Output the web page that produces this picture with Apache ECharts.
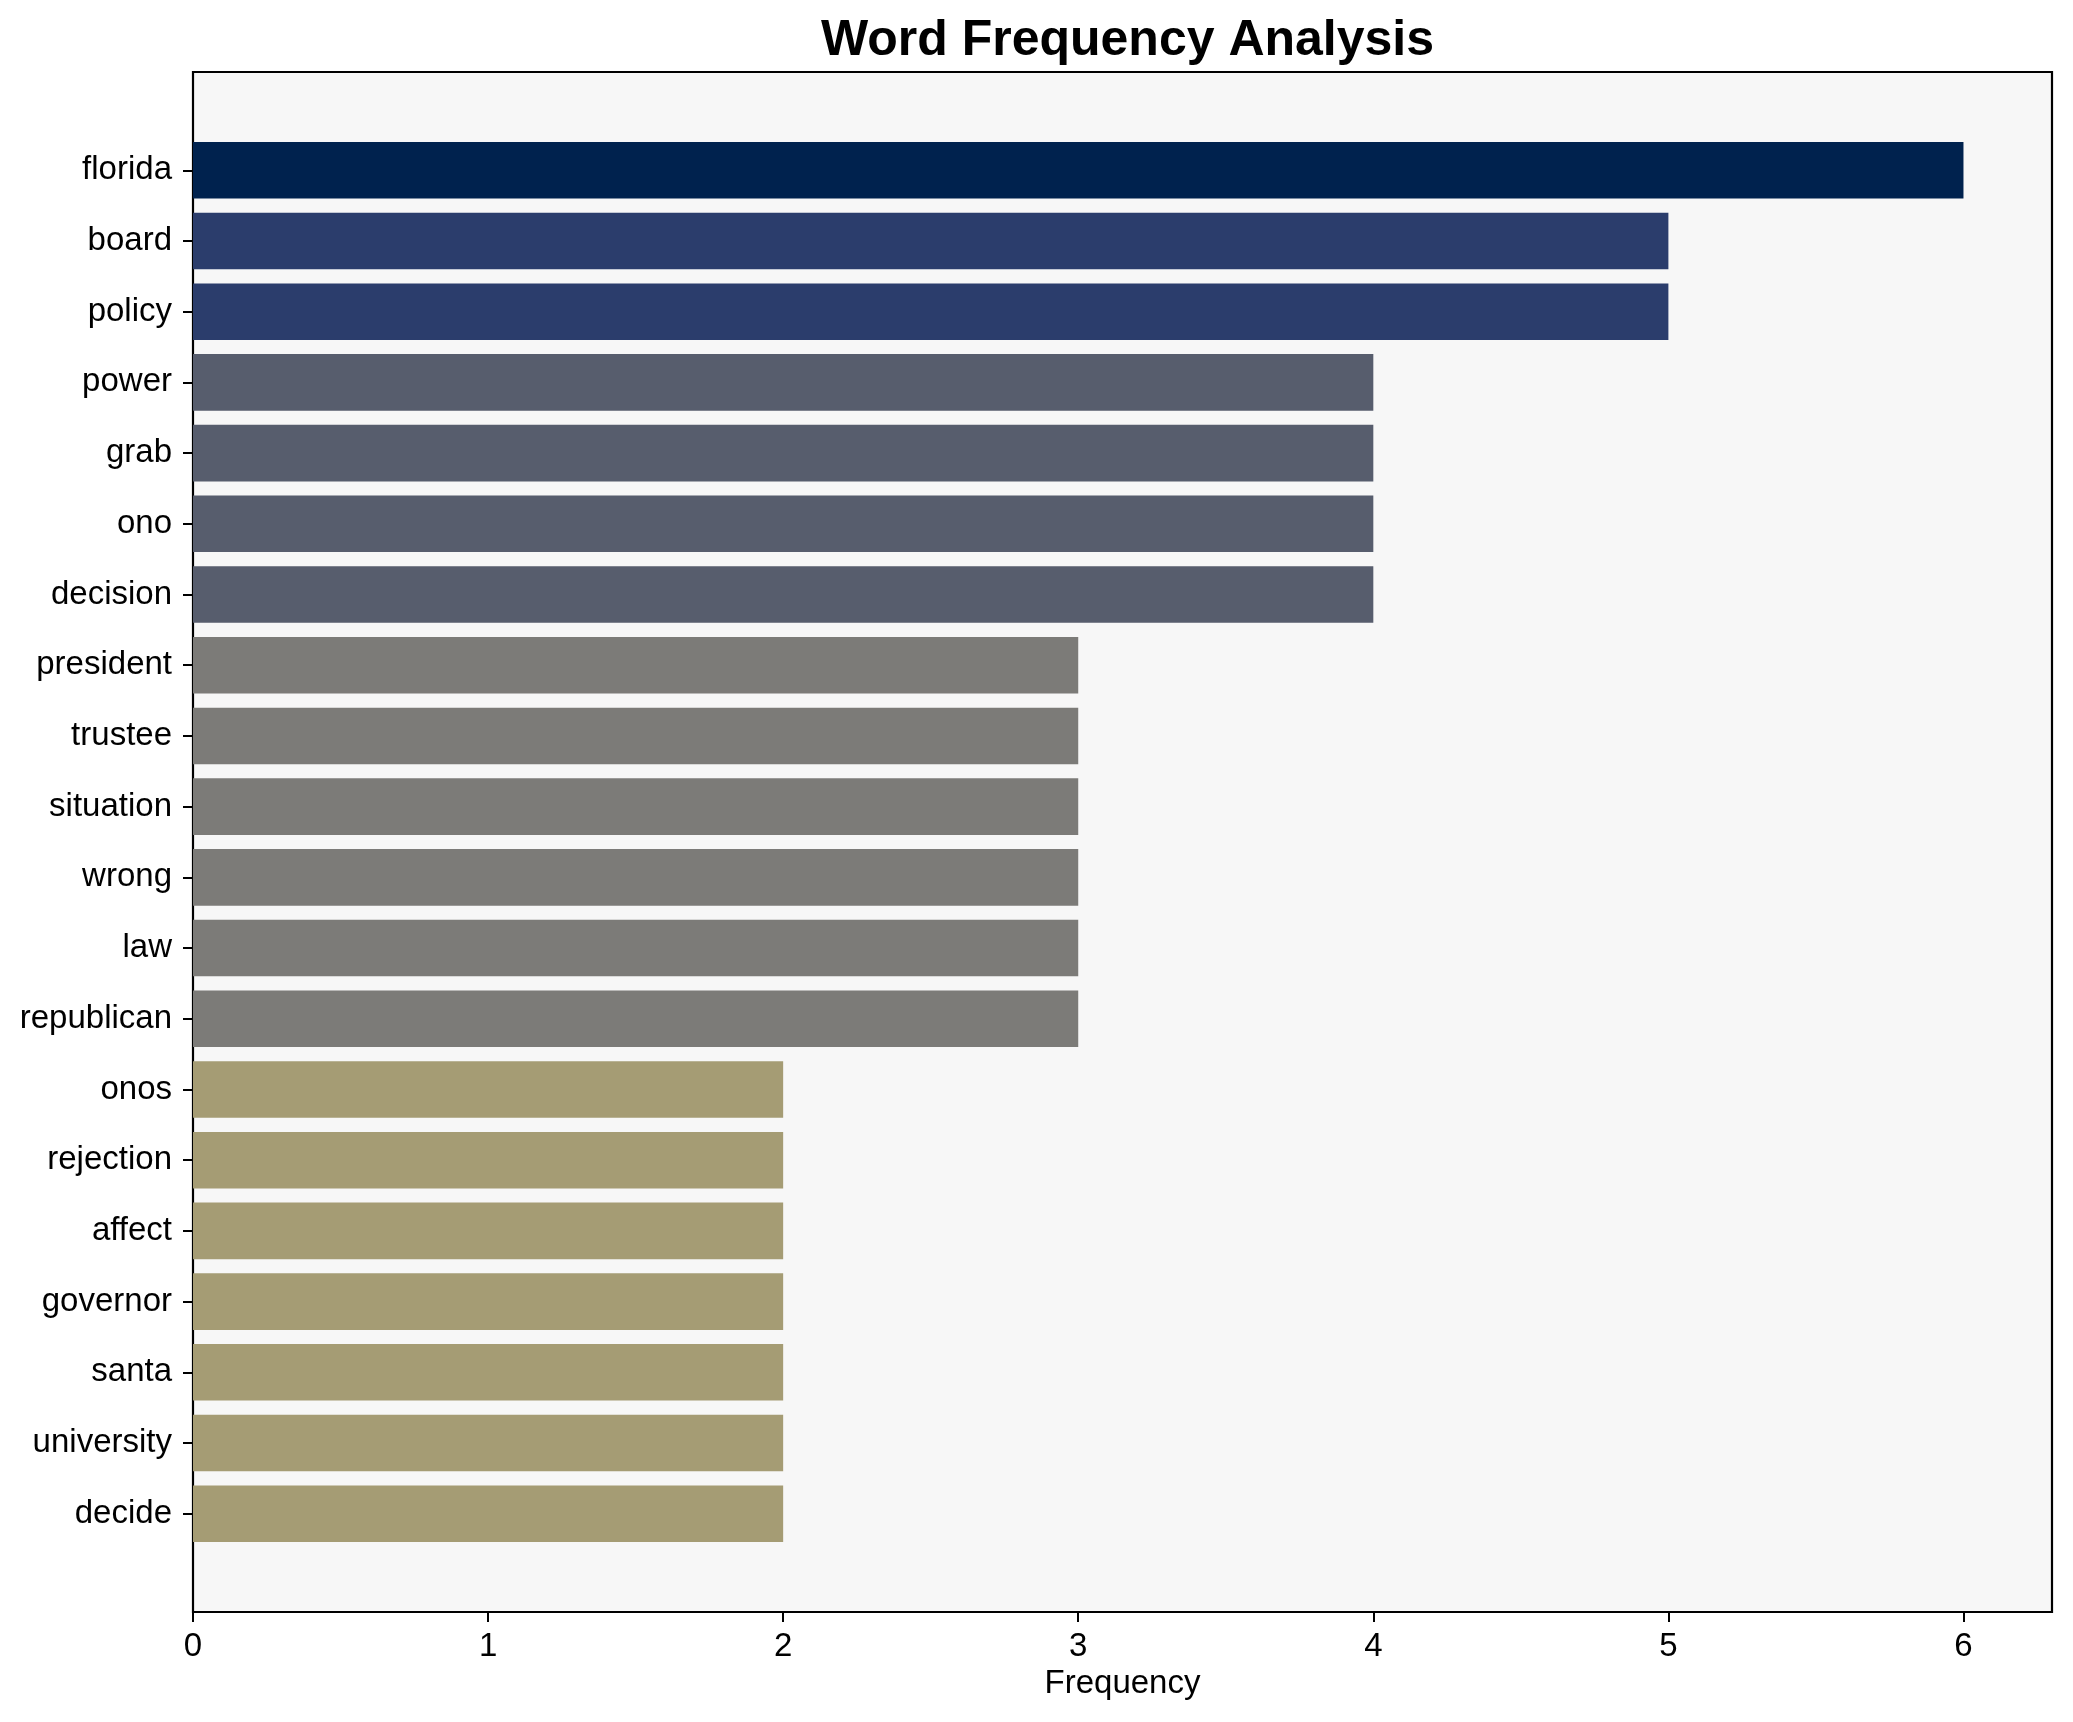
<!DOCTYPE html>
<html>
<head>
<meta charset="utf-8">
<script src="https://cdn.jsdelivr.net/npm/echarts@6/dist/echarts.min.js"></script>
<style>
html,body{margin:0;padding:0;background:#fff;}
#chart{width:2073px;height:1722px;}
</style>
</head>
<body>
<div id="chart"></div>
<script>
const words = ["florida","board","policy","power","grab","ono","decision","president","trustee","situation","wrong","law","republican","onos","rejection","affect","governor","santa","university","decide"];
const counts = [6,5,5,4,4,4,4,3,3,3,3,3,3,2,2,2,2,2,2,2];
const xTicks = [0,1,2,3,4,5,6];

const colorByCount = {6:"#00224e",5:"#2b3d6c",4:"#575d6d",3:"#7c7b78",2:"#a59c74"};
const FONT = "Liberation Sans, Arial, sans-serif";

const chart = echarts.init(document.getElementById('chart'), null, {renderer:'canvas'});
const W = 2073, H = 1722;
const plotLeft = 193, plotRight = 2052, plotTop = 72, plotBottom = 1612;
const unit = (plotBottom - plotTop) / 21.78;
const pad = 0.89 * unit;

chart.setOption({
  backgroundColor: '#ffffff',
  animation: false,
  title: {
    text: 'Word Frequency Analysis',
    left: (plotLeft + plotRight) / 2,
    textAlign: 'center',
    top: 11,
    textStyle: {fontFamily: FONT, fontWeight: 'bold', fontSize: 50, color: '#000'}
  },
  grid: [
    {left: plotLeft, right: W - plotRight, top: plotTop, bottom: H - plotBottom,
     show: true, backgroundColor: '#f7f7f7', borderColor: '#000', borderWidth: 2.2, containLabel: false},
    {left: plotLeft, right: W - plotRight, top: plotTop + pad, bottom: H - plotBottom + pad, containLabel: false}
  ],
  xAxis: [
    {gridIndex: 0, type: 'value', min: 0, max: 6.3, interval: 1,
     name: 'Frequency', nameLocation: 'middle', nameGap: 55,
     nameTextStyle: {fontFamily: FONT, fontSize: 33, color: '#000'},
     axisLine: {show: true, lineStyle: {color: '#000', width: 2.2}},
     axisTick: {show: true, length: 10, customValues: xTicks, lineStyle: {color: '#000', width: 2}},
     axisLabel: {fontFamily: FONT, fontSize: 33, color: '#000', margin: 18, customValues: xTicks},
     splitLine: {show: false}},
    {gridIndex: 1, type: 'value', min: 0, max: 6.3, show: false}
  ],
  yAxis: [
    {gridIndex: 0, type: 'value', min: 0, max: 1, show: false},
    {gridIndex: 1, type: 'category', data: words, inverse: true,
     axisLine: {show: false},
     axisTick: {show: true, alignWithLabel: true, length: 10, lineStyle: {color: '#000', width: 2}},
     axisLabel: {fontFamily: FONT, fontSize: 33, color: '#000', margin: 21, padding: [5, 0, 0, 0]},
     splitLine: {show: false}}
  ],
  series: [{
    type: 'bar',
    xAxisIndex: 1, yAxisIndex: 1,
    barWidth: '80%',
    data: counts.map(c => ({value: c, itemStyle: {color: colorByCount[c]}}))
  }]
});
</script>
</body>
</html>
